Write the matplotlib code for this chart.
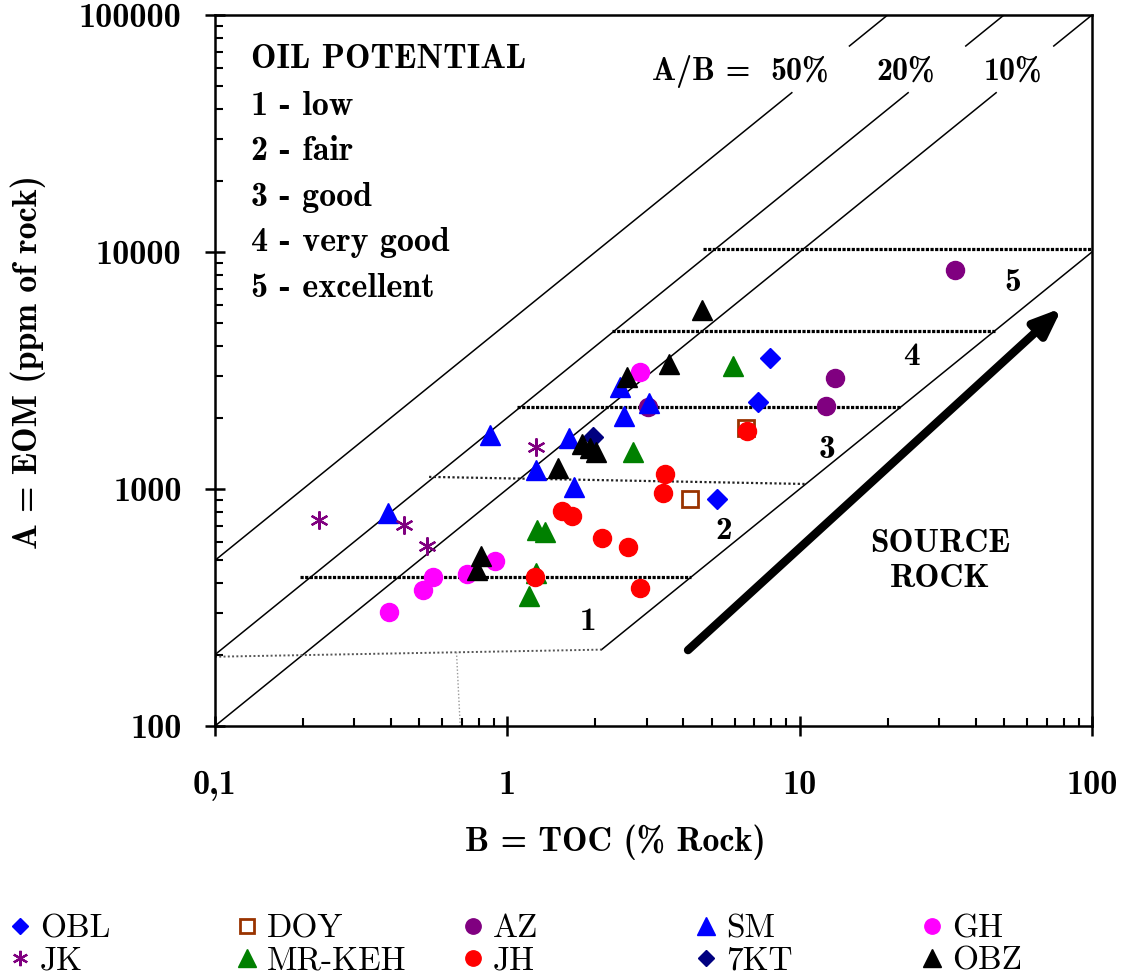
import matplotlib
matplotlib.use('Agg')
import matplotlib.pyplot as plt
import matplotlib.lines as mlines
from matplotlib.ticker import FixedLocator, FixedFormatter, LogLocator, NullFormatter

# ---------------- data ----------------
x_ticks = [0.1, 1, 10, 100]
x_tick_labels = ['0,1', '1', '10', '100']
y_ticks = [100, 1000, 10000, 100000]
y_tick_labels = ['100', '1000', '10000', '100000']

obl_toc = [7.92, 7.21, 5.22]
obl_eom = [3570, 2330, 907]
doy_toc = [6.55, 4.22]
doy_eom = [1810, 907]
az_toc = [34.0, 13.2, 12.3, 3.03]
az_eom = [8400, 2940, 2240, 2220]
sm_toc = [0.391, 0.873, 1.254, 1.69, 1.625, 2.43, 2.51, 3.05]
sm_eom = [792, 1690, 1203, 1020, 1642, 2694, 2032, 2307]
gh_toc = [0.394, 0.515, 0.557, 0.728, 0.908, 2.84]
gh_eom = [303, 375, 425, 438, 497, 3117]
jk_toc = [0.227, 0.443, 0.531, 1.254]
jk_eom = [740, 705, 575, 1504]
mrkeh_toc = [1.186, 1.264, 1.346, 1.254, 2.69, 5.92]
mrkeh_eom = [354, 671, 659, 442, 1433, 3304]
jh_toc = [3.46, 3.41, 1.54, 1.665, 2.11, 2.59, 1.244, 2.84, 6.61]
jh_eom = [1157, 962, 808, 769, 621, 569, 425, 382, 1756]
kt7_toc = [1.96]
kt7_eom = [1658]
obz_toc = [0.813, 0.788, 1.49, 1.80, 1.92, 2.01, 2.57, 3.58, 4.64]
obz_eom = [522, 455, 1226, 1548, 1489, 1433, 2970, 3370, 5690]

# A/B ratio lines (ppm EOM per % TOC) and their labels
ratio_k = [5000, 2000, 1000]
ratio_labels = ['50%', '20%', '10%']
ratio_gap = [47000, 74000]          # break in the lines for the labels
source_k = 100                      # right boundary of the potential zones
source_start = 2.1

# oil potential zone boundaries (thick dotted)
zone_levels = [424, 2224, 4645, 10300]
zone_starts = [0.195, 1.08, 2.28, 4.67]
# thin dotted boundary between zone 1 and 2
thin_x = [0.54, 10.5]
thin_y = [1125, 1050]
# lower boundary of zone 1
low_x = [0.1, 2.1]
low_y = [196, 210]
cut_x = [0.67, 0.69]
cut_y = [205, 100]

zone_numbers = ['1', '2', '3', '4', '5']
zone_num_x = [1.89, 5.51, 12.4, 24.2, 53.7]
zone_num_y = [275, 671, 1461, 3606, 7470]

arrow_from = (4.15, 209)
arrow_to = (79, 5810)

potential_title = 'OIL POTENTIAL'
potential_lines = ['1 - low', '2 - fair', '3 - good', '4 - very good', '5 - excellent']

# ---------------- figure ----------------
BOLD = 'cmb10'
ROMAN = 'cmr10'
fig = plt.figure(figsize=(11.24, 9.77), dpi=100)
W, H = 1124, 977
ax = fig.add_axes([215 / W, 1 - 726 / H, (1092 - 215) / W, (726 - 15) / H])
ax.set_xscale('log')
ax.set_yscale('log')
ax.set_xlim(0.1, 100)
ax.set_ylim(100, 100000)

for s in ax.spines.values():
    s.set_linewidth(1.8)

ax.xaxis.set_major_locator(FixedLocator(x_ticks))
ax.xaxis.set_major_formatter(FixedFormatter(x_tick_labels))
ax.yaxis.set_major_locator(FixedLocator(y_ticks))
ax.yaxis.set_major_formatter(FixedFormatter(y_tick_labels))
ax.xaxis.set_minor_locator(LogLocator(base=10, subs=range(2, 10)))
ax.yaxis.set_minor_locator(LogLocator(base=10, subs=range(2, 10)))
ax.xaxis.set_minor_formatter(NullFormatter())
ax.yaxis.set_minor_formatter(NullFormatter())
ax.tick_params(which='major', direction='inout', length=14, width=1.8)
ax.tick_params(which='minor', direction='in', length=6, width=1.5)
ax.tick_params(axis='x', which='major', pad=25)
ax.tick_params(axis='y', which='major', pad=17)
for lab in ax.get_xticklabels() + ax.get_yticklabels():
    lab.set_fontfamily(BOLD)
    lab.set_fontsize(24.5)

# ratio lines
for k in ratio_k:
    ax.plot([0.1, ratio_gap[0] / k], [0.1 * k, ratio_gap[0]], color='black', lw=1.1, zorder=2)
    ax.plot([ratio_gap[1] / k, 100000 / k], [ratio_gap[1], 100000], color='black', lw=1.1, zorder=2)
ax.plot([source_start, 100], [source_start * source_k, 100 * source_k], color='black', lw=1.1, zorder=2)

# zone boundaries
for lvl, x0 in zip(zone_levels, zone_starts):
    ax.plot([x0, min(lvl / source_k, 100)], [lvl, lvl], color='black', lw=2.3,
            linestyle=(0, (1.0, 0.45)), solid_capstyle='butt', dash_capstyle='butt', zorder=2)
ax.plot(thin_x, thin_y, color='#222222', lw=1.6, linestyle=(0, (1, 1.1)), zorder=2)
ax.plot(low_x, low_y, color='#555555', lw=1.4, linestyle=(0, (1, 1.2)), zorder=2)
ax.plot(cut_x, cut_y, color='#999999', lw=1.0, linestyle=(0, (1, 1.5)), zorder=2)

# arrow
ax.annotate('', xy=arrow_to, xytext=arrow_from,
            arrowprops=dict(arrowstyle='-|>,head_length=0.55,head_width=0.22', lw=6,
                            color='black', shrinkA=0, shrinkB=0, mutation_scale=30))

# zone numbers
for t, x, y in zip(zone_numbers, zone_num_x, zone_num_y):
    ax.text(x, y, t, family=BOLD, fontsize=24, ha='center', va='center')
ax.text(30.2, 497, 'SOURCE\nROCK', family=BOLD, fontsize=24, ha='center', va='center',
        linespacing=1.25)

# series
MS = dict(linestyle='none', zorder=3)
series = [
    ('OBL', obl_toc, obl_eom, dict(marker='D', ms=10, color='#0000FF', mec='#0000FF')),
    ('DOY', doy_toc, doy_eom, dict(marker='s', ms=12, mfc='white', mec='#993300', mew=2)),
    ('AZ', az_toc, az_eom, dict(marker='o', ms=13, color='#800080')),
    ('SM', sm_toc, sm_eom, dict(marker='^', ms=15, color='#0000FF')),
    ('GH', gh_toc, gh_eom, dict(marker='o', ms=13, color='#FF00FF')),
    ('JK', jk_toc, jk_eom, dict(marker=(6, 2, 0), ms=13, color='#800080', mew=1.6)),
    ('MR-KEH', mrkeh_toc, mrkeh_eom, dict(marker='^', ms=15, color='#008000')),
    ('JH', jh_toc, jh_eom, dict(marker='o', ms=13, color='#FF0000')),
    ('7KT', kt7_toc, kt7_eom, dict(marker='D', ms=10, color='#000080')),
    ('OBZ', obz_toc, obz_eom, dict(marker='^', ms=15, color='#000000')),
]
for name, xs, ys, st in series:
    ax.plot(xs, ys, **MS, **st)

# texts inside plot (figure pixel placement)
def ftext(px, py, s, **kw):
    fig.text(px / W, 1 - py / H, s, **kw)

ftext(251, 68, potential_title, family=BOLD, fontsize=24.5, va='baseline')
for i, s in enumerate(potential_lines):
    ftext(251, 115 + i * 45.5, s, family=BOLD, fontsize=24.5, va='baseline')

ftext(652, 80, 'A/B =', family=BOLD, fontsize=23, va='baseline')
for s, px in zip(ratio_labels, [800, 906, 1013]):
    ftext(px, 80, s, family=BOLD, fontsize=23, va='baseline', ha='center')

# axis labels
ftext(615, 851, 'B = TOC (% Rock)', family=BOLD, fontsize=24.5, va='baseline', ha='center')
fig.text(37 / W, 1 - 362 / H, 'A = EOM (ppm of rock)', family=BOLD, fontsize=24.5,
         rotation=90, rotation_mode='anchor', ha='center', va='baseline')

# legend (two rows x five columns)
leg_cols_x = [20, 247, 473, 706, 932]
leg_rows_y = [926, 958]
order = [['OBL', 'DOY', 'AZ', 'SM', 'GH'], ['JK', 'MR-KEH', 'JH', '7KT', 'OBZ']]
style = {n: st for n, _, _, st in series}
for r, row in enumerate(order):
    for c, name in enumerate(row):
        st = dict(style[name])
        st['ms'] = st['ms'] * 0.85
        fig.add_artist(mlines.Line2D([leg_cols_x[c] / W], [1 - leg_rows_y[r] / H],
                                     transform=fig.transFigure, linestyle='none', **st))
        ftext(leg_cols_x[c] + 20, leg_rows_y[r] + 11, name, family=ROMAN, fontsize=24,
              va='baseline')

fig.savefig('out.png', dpi=100)
